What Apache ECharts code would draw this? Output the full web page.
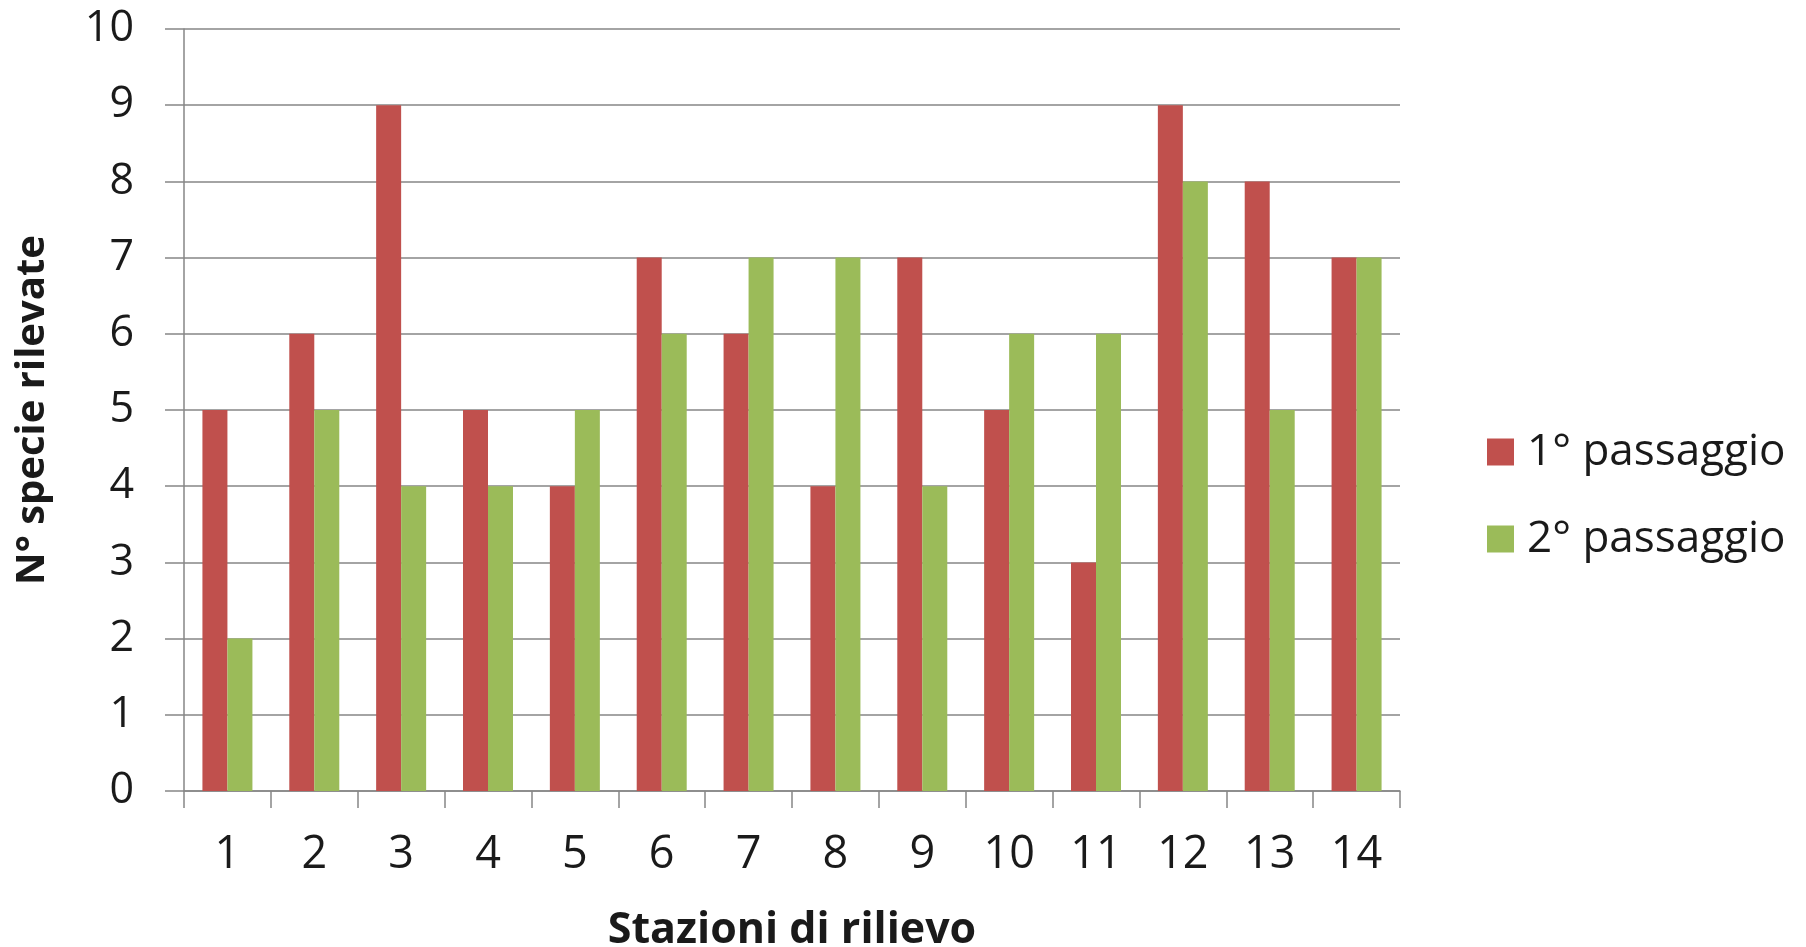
<!DOCTYPE html>
<html>
<head>
<meta charset="utf-8">
<script src="https://cdn.jsdelivr.net/npm/echarts@6/dist/echarts.min.js"></script>
<style>
html,body{margin:0;padding:0;background:#fff;}
#chart{width:1806px;height:947px;}
</style>
</head>
<body>
<div id="chart"></div>
<script>
const categories = ['1','2','3','4','5','6','7','8','9','10','11','12','13','14'];
const passaggio1 = [5,6,9,5,4,7,6,4,7,5,3,9,8,7];
const passaggio2 = [2,5,4,4,5,6,7,7,4,6,6,8,5,7];
const seriesNames = ['1° passaggio','2° passaggio'];
const xTitle = 'Stazioni di rilievo';
const yTitle = 'N° specie rilevate';

const FONT = 'Open Sans';
const axisGray = '#868686';
const chart = echarts.init(document.getElementById('chart'));
chart.setOption({
  animation: false,
  color: ['#C0504D','#9BBB59'],
  textStyle: {fontFamily: FONT},
  grid: {left: 184, right: 406, top: 29, bottom: 156, containLabel: false, outerBoundsMode: 'none'},
  legend: {
    orient: 'vertical',
    left: 1482,
    top: 422,
    itemWidth: 27,
    itemHeight: 27,
    itemGap: 37,
    icon: 'rect',
    textStyle: {fontFamily: FONT, fontSize: 44, color: '#1a1a1a', lineHeight: 50, padding: [0,0,0,8]},
    data: seriesNames
  },
  xAxis: {
    type: 'category',
    data: categories,
    name: xTitle,
    nameLocation: 'middle',
    nameGap: 118,
    nameTextStyle: {fontFamily: FONT, fontWeight: 'bold', fontSize: 43, color: '#1a1a1a'},
    axisLine: {lineStyle: {color: axisGray, width: 1.5}},
    axisTick: {show: true, length: 17, lineStyle: {color: axisGray, width: 1.5}},
    axisLabel: {fontFamily: FONT, fontSize: 45, color: '#1a1a1a', margin: 42, lineHeight: 45}
  },
  yAxis: {
    type: 'value',
    min: 0, max: 10, interval: 1,
    name: yTitle,
    nameLocation: 'middle',
    nameGap: 131,
    nameRotate: 90,
    nameTextStyle: {fontFamily: FONT, fontWeight: 'bold', fontSize: 40, color: '#1a1a1a'},
    axisLine: {show: true, lineStyle: {color: axisGray, width: 1.5}},
    axisTick: {show: true, length: 19, lineStyle: {color: axisGray, width: 1.5}},
    axisLabel: {fontFamily: FONT, fontSize: 43, color: '#1a1a1a', margin: 50},
    splitLine: {lineStyle: {color: axisGray, width: 1.5}}
  },
  series: [
    {name: seriesNames[0], type: 'bar', data: passaggio1, barWidth: 25, barGap: '0%'},
    {name: seriesNames[1], type: 'bar', data: passaggio2, barWidth: 25, barGap: '0%'}
  ]
});
</script>
</body>
</html>
